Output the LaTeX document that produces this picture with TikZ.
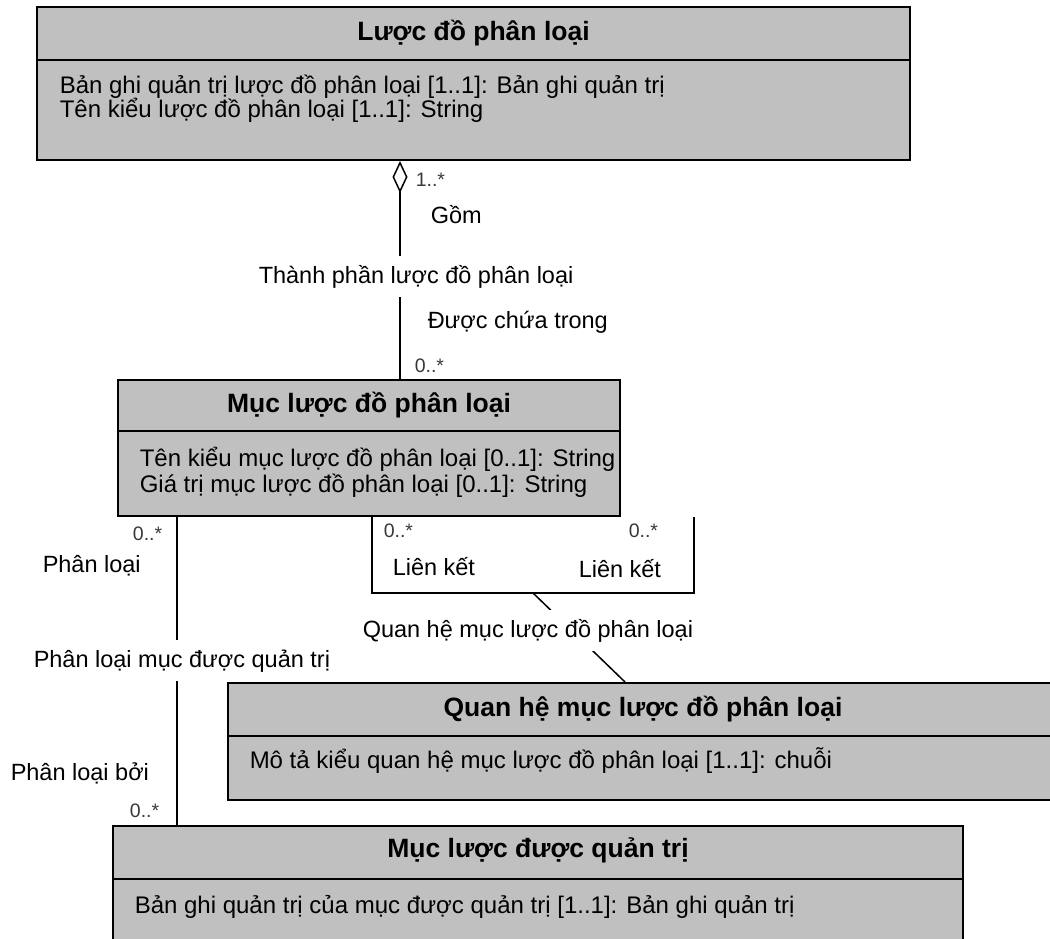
\documentclass[tikz,border=0pt]{standalone}
\usepackage{fontspec}
\setmainfont{Liberation Sans}
\usetikzlibrary{fit,arrows.meta}
\definecolor{boxgray}{HTML}{C0C0C0}
\definecolor{multgray}{HTML}{383838}

\begin{document}
\begin{tikzpicture}[x=1pt,y=-1pt,line width=1.5pt,
  cls/.style={draw,line width=2pt,fill=boxgray,inner sep=0pt},
  title/.style={font=\fontsize{26.5}{28}\selectfont\bfseries},
  attr/.style={font=\fontsize{24}{24}\selectfont,anchor=base west,inner sep=0pt},
  lbl/.style={font=\fontsize{23.5}{24}\selectfont,anchor=base west,inner sep=0pt},
  mult/.style={font=\fontsize{19.5}{20}\selectfont,text=multgray,anchor=base west,inner sep=0pt},
  cover/.style={fill=white,inner xsep=4pt,inner ysep=9pt}]
  \useasboundingbox (0,0) rectangle (1050,939);

  % classes
  \node[cls,fit={(37,7)(910,160)}] (A) {};
  \node[cls,fit={(118,380)(620,516)}] (B) {};
  \node[cls,fit={(228,683)(1058,800)}] (C) {};
  \node[cls,fit={(113,826)(963,948)}] (D) {};

  \draw[line width=2pt] ([yshift=-54pt]A.north west) -- ([yshift=-54pt]A.north east);
  \draw[line width=2pt] ([yshift=-52pt]B.north west) -- ([yshift=-52pt]B.north east);
  \draw[line width=2pt] ([yshift=-54pt]C.north west) -- ([yshift=-54pt]C.north east);
  \draw[line width=2pt] ([yshift=-54pt]D.north west) -- ([yshift=-54pt]D.north east);

  \node[title] (At) at ([yshift=-27pt]A.north) {Lược đồ phân loại};
  \node[title] (Bt) at ([yshift=-26pt]B.north) {Mục lược đồ phân loại};
  \node[title] (Ct) at ([yshift=-27pt]C.north) {Quan hệ mục lược đồ phân loại};
  \node[title] (Dt) at ([yshift=-25pt]D.north) {Mục lược được quản trị};

  \node[attr] (A1) at (59,94) {Bản ghi quản trị lược đồ phân loại [1..1]: Bản ghi quản trị};
  \node[attr] (A2) at (59,118) {Tên kiểu lược đồ phân loại [1..1]: String};
  \node[attr] (B1) at (139,466) {Tên kiểu mục lược đồ phân loại [0..1]: String};
  \node[attr] (B2) at (139,492) {Giá trị mục lược đồ phân loại [0..1]: String};
  \node[attr] (C1) at (249,768) {Mô tả kiểu quan hệ mục lược đồ phân loại [1..1]: chuỗi};
  \node[attr] (D1) at (134,913) {Bản ghi quản trị của mục được quản trị [1..1]: Bản ghi quản trị};

  % connectors
  \coordinate (p) at (400,0);
  \coordinate (q) at (177,0);
  \coordinate (r) at (372,0);
  \coordinate (s) at (694,0);
  \coordinate (t) at (625,0);
  \coordinate (L) at (533,593);

  \draw[-{Diamond[open,fill=white,length=32pt,width=15pt]}] (B.north -| p) -- (A.south -| p);
  \draw (B.south -| q) -- (D.north -| q);
  \draw (B.south -| r) |- (L) -| (B.south -| s);
  \draw (L) -- (C.north -| t);

  % labels
  \node[mult] (m1) at (415,186) {1..*};
  \node[lbl] (gom) at (430,223) {Gồm};
  \node[lbl,cover] (tp) at (254,283) {Thành phần lược đồ phân loại};
  \node[lbl] (dct) at (427,328) {Được chứa trong};
  \node[mult] (m2) at (414,372) {0..*};

  \node[mult,anchor=base east] (m3) at (163,540) {0..*};
  \node[lbl] (pl) at (42,572) {Phân loại};
  \node[lbl,cover] (plm) at (29,667) {Phân loại mục được quản trị};
  \node[lbl] (plb) at (10,780) {Phân loại bởi};
  \node[mult,anchor=base east] (m4) at (160,817) {0..*};

  \node[mult] (m5) at (383,537) {0..*};
  \node[mult] (m6) at (628,537) {0..*};
  \node[lbl] (lk1) at (392,575) {Liên kết};
  \node[lbl] (lk2) at (578,577) {Liên kết};
  \node[lbl,cover] (qh) at (358,637) {Quan hệ mục lược đồ phân loại};
\end{tikzpicture}
\end{document}
